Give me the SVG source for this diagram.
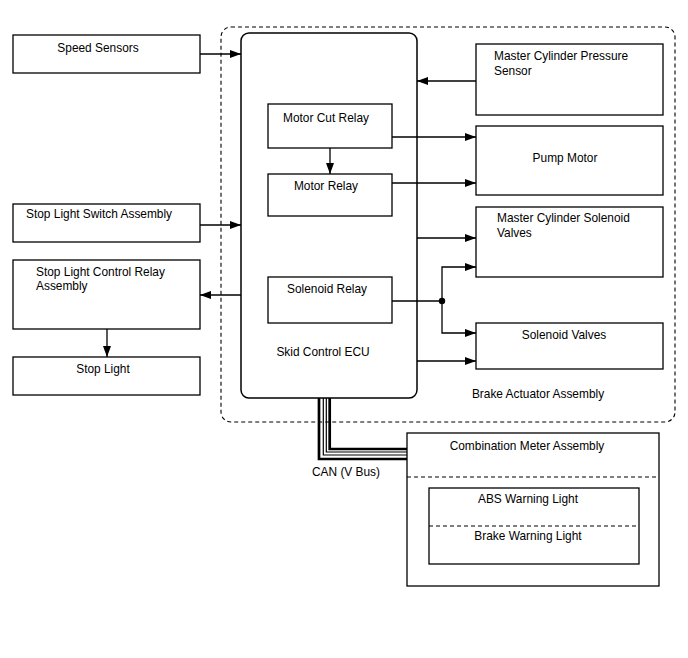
<svg xmlns="http://www.w3.org/2000/svg" width="688" height="658" viewBox="0 0 688 658">
<style>
.box{fill:#fff;stroke:#000;stroke-width:1.3}
.dash{fill:none;stroke:#000;stroke-width:1.1;stroke-dasharray:4 3}
.t{font-family:"Liberation Sans",Arial,sans-serif;font-size:11.9px;fill:#000}
.m{text-anchor:middle}
.c{fill:none;stroke:#000;stroke-width:1.3}
</style>
<defs>
<marker id="ah" markerWidth="12" markerHeight="8" refX="11" refY="4" orient="auto" markerUnits="userSpaceOnUse">
<path d="M0,0 L11,4 L0,8 Z" fill="#000"/>
</marker>
</defs>
<rect width="688" height="658" fill="#fff"/>
<g id="brake-actuator">
<rect x="221" y="27" width="454" height="395" rx="10" class="dash"/>
<text x="538" y="398" class="t m">Brake Actuator Assembly</text>
</g>
<g id="speed-sensors">
<rect x="13" y="35" width="187" height="38" class="box"/>
<text x="98" y="52" class="t m">Speed Sensors</text>
</g>
<g id="stop-light-switch">
<rect x="13" y="204" width="187" height="38" class="box"/>
<text x="26" y="218" class="t">Stop Light Switch Assembly</text>
</g>
<g id="stop-light-relay">
<rect x="13" y="260" width="187" height="69" class="box"/>
<text x="36" y="276" class="t">Stop Light Control Relay</text>
<text x="36" y="290" class="t">Assembly</text>
</g>
<g id="stop-light">
<rect x="13" y="357" width="187" height="38" class="box"/>
<text x="103" y="373" class="t m">Stop Light</text>
</g>
<g id="skid-control-ecu">
<rect x="241" y="33" width="176" height="365" rx="8" class="box" style="stroke-width:1.5"/>
<text x="323" y="356" class="t m">Skid Control ECU</text>
</g>
<g id="motor-cut-relay">
<rect x="268" y="104" width="124" height="44" class="box"/>
<text x="326" y="122" class="t m">Motor Cut Relay</text>
</g>
<g id="motor-relay">
<rect x="268" y="174" width="124" height="42" class="box"/>
<text x="326" y="190" class="t m">Motor Relay</text>
</g>
<g id="solenoid-relay">
<rect x="268" y="277" width="124" height="46" class="box"/>
<text x="327" y="293" class="t m">Solenoid Relay</text>
</g>
<g id="master-cylinder-pressure-sensor">
<rect x="476" y="44" width="187" height="71" class="box"/>
<text x="494" y="60" class="t">Master Cylinder Pressure</text>
<text x="494" y="75" class="t">Sensor</text>
</g>
<g id="pump-motor">
<rect x="476" y="126" width="187" height="69" class="box"/>
<text x="565" y="162" class="t m">Pump Motor</text>
</g>
<g id="master-cylinder-solenoid-valves">
<rect x="476" y="207" width="187" height="70" class="box"/>
<text x="497" y="222" class="t">Master Cylinder Solenoid</text>
<text x="497" y="237" class="t">Valves</text>
</g>
<g id="solenoid-valves">
<rect x="476" y="323" width="187" height="46" class="box"/>
<text x="564" y="339" class="t m">Solenoid Valves</text>
</g>
<g id="combination-meter">
<rect x="407" y="433" width="252" height="153" class="box"/>
<text x="527" y="450" class="t m">Combination Meter Assembly</text>
<line x1="407" y1="477" x2="659" y2="477" class="dash"/>
<rect x="429" y="488" width="210" height="76" class="box"/>
<line x1="429" y1="526" x2="639" y2="526" class="dash"/>
<text x="528" y="503" class="t m">ABS Warning Light</text>
<text x="528" y="540" class="t m">Brake Warning Light</text>
</g>
<g id="connectors">
<line x1="200" y1="54" x2="241" y2="54" class="c" marker-end="url(#ah)"/>
<line x1="200" y1="225" x2="241" y2="225" class="c" marker-end="url(#ah)"/>
<line x1="241" y1="295" x2="200" y2="295" class="c" marker-end="url(#ah)"/>
<line x1="107" y1="329" x2="107" y2="357" class="c" marker-end="url(#ah)"/>
<line x1="476" y1="81" x2="417" y2="81" class="c" marker-end="url(#ah)"/>
<line x1="330" y1="148" x2="330" y2="174" class="c" marker-end="url(#ah)"/>
<line x1="392" y1="137" x2="476" y2="137" class="c" marker-end="url(#ah)"/>
<line x1="392" y1="183" x2="476" y2="183" class="c" marker-end="url(#ah)"/>
<line x1="417" y1="238" x2="476" y2="238" class="c" marker-end="url(#ah)"/>
<line x1="392" y1="301" x2="442" y2="301" class="c"/>
<polyline points="442,301 442,267 476,267" class="c" marker-end="url(#ah)"/>
<polyline points="442,301 442,333 476,333" class="c" marker-end="url(#ah)"/>
<circle cx="442" cy="301" r="3.2" fill="#000"/>
<line x1="417" y1="361" x2="476" y2="361" class="c" marker-end="url(#ah)"/>
<g id="can-bus" fill="none" stroke="#000">
<polyline points="319,398 319,459 407,459" stroke-width="2.7"/>
<polyline points="323.3,398 323.3,455 407,455" stroke-width="1.2"/>
<polyline points="326.3,398 326.3,452 407,452" stroke-width="1.2"/>
<polyline points="329.7,398 329.7,449 407,449" stroke-width="2.7"/>
</g>
<text x="346" y="476" class="t m">CAN (V Bus)</text>
</g>
</svg>
